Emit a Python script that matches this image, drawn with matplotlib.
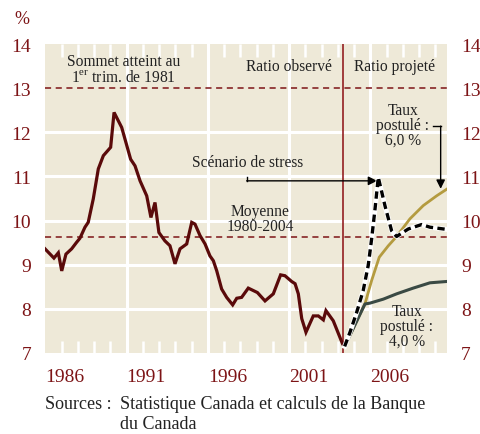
import matplotlib.pyplot as plt
from matplotlib.ticker import MultipleLocator

plt.rcParams['font.family'] = 'Liberation Serif'
plt.rcParams['mathtext.fontset'] = 'custom'
plt.rcParams['mathtext.rm'] = 'Liberation Serif'

BG = '#EEE9D8'
RED = '#7D1416'
TXT = '#222222'

# ratio observe
hist_x = [1985.98, 1986.53, 1986.8, 1987.01, 1987.27, 1987.62, 1987.93, 1988.13, 1988.44, 1988.64,
          1988.95, 1989.26, 1989.57, 1990.02, 1990.23, 1990.7, 1991.25, 1991.52, 1991.83, 1992.24,
          1992.5, 1992.75, 1992.99, 1993.36, 1993.67, 1993.98, 1994.29, 1994.7, 1995.01, 1995.21,
          1995.52, 1995.83, 1996.13, 1996.34, 1996.55, 1996.85, 1997.16, 1997.53, 1997.78, 1998.08,
          1998.49, 1999.05, 1999.52, 2000.03, 2000.48, 2000.75, 2001.16, 2001.37, 2001.57, 2001.78,
          2002.04, 2002.49, 2002.8, 2003.11, 2003.27, 2003.72, 2004.3, 2004.42]
hist_y = [9.36, 9.15, 9.27, 8.86, 9.24, 9.36, 9.51, 9.6, 9.85, 9.96,
          10.49, 11.17, 11.47, 11.66, 12.45, 12.11, 11.39, 11.24, 10.9, 10.56,
          10.07, 10.41, 9.73, 9.54, 9.43, 9.02, 9.36, 9.47, 9.96, 9.92,
          9.66, 9.47, 9.2, 9.09, 8.86, 8.45, 8.26, 8.09, 8.24, 8.26,
          8.47, 8.37, 8.18, 8.34, 8.77, 8.75, 8.62, 8.57, 8.34, 7.78,
          7.47, 7.84, 7.84, 7.75, 7.96, 7.73, 7.2, 7.15]

# scenarios projetes
stress_x = [2004.42, 2004.75, 2005.16, 2005.56, 2005.87, 2006.08, 2006.29, 2006.49, 2006.9,
            2007.31, 2007.62, 2008.34, 2009.16, 2009.67, 2010.7]
stress_y = [7.15, 7.47, 7.92, 8.41, 8.98, 9.58, 10.26, 10.98, 10.34,
            9.77, 9.64, 9.81, 9.91, 9.85, 9.8]
taux6_x = [2004.42, 2005.67, 2006.08, 2006.55, 2007.11, 2007.62, 2008.44, 2009.26, 2010.08, 2010.7]
taux6_y = [7.15, 8.11, 8.64, 9.17, 9.43, 9.64, 10.04, 10.34, 10.56, 10.71]
taux4_x = [2004.42, 2005.67, 2005.98, 2006.8, 2007.62, 2008.64, 2009.67, 2010.7]
taux4_y = [7.15, 8.11, 8.13, 8.22, 8.34, 8.47, 8.59, 8.62]

PEAK_1981 = 13.0
MOYENNE = 9.63
DEBUT_PROJ = 2004.33
year_ticks = [1986, 1991, 1996, 2001, 2006]
y_grid = [8, 9, 10, 11, 12]

fig = plt.figure(figsize=(4.81, 4.35), dpi=100)
ax = fig.add_axes([45/481, 1-354/435, 402/481, 309/435])
ax.set_facecolor(BG)
for s in ax.spines.values():
    s.set_visible(False)

ax.set_xlim(1985.98, 2010.72)
ax.set_ylim(7, 14)

for g in y_grid:
    ax.axhline(g, color='white', lw=2.2, zorder=1)
for g in year_ticks[1:]:
    ax.axvline(g, color='white', lw=2.2, zorder=1)

ax.axhline(PEAK_1981, color=RED, lw=1.1, dashes=(4, 3), zorder=2)
ax.axhline(MOYENNE, color=RED, lw=1.1, dashes=(4, 3), zorder=2)
ax.axvline(DEBUT_PROJ, color='#8B0E12', lw=1.1, zorder=2)

ax.plot(hist_x, hist_y, color='#5A0A0A', lw=2.3, zorder=4, solid_joinstyle='miter')
ax.plot(taux6_x, taux6_y, color='#B49B3F', lw=2.0, zorder=3)
ax.plot(taux4_x, taux4_y, color='#3A4A44', lw=2.2, zorder=3)
ax.plot(stress_x, stress_y, color='white', lw=3.5, zorder=5)
ax.plot(stress_x, stress_y, color='black', lw=2.4, dashes=(2.2, 1.3), zorder=6)

# axes et graduations
ax.set_xticks(year_ticks)
ax.set_xticklabels([str(y) for y in year_ticks], ha='left')
ax.xaxis.set_minor_locator(MultipleLocator(1))
ax.tick_params(axis='x', which='major', length=0, pad=11, labelsize=14, labelcolor=RED)
ax.tick_params(axis='x', which='minor', direction='in', length=9, width=1.8, color='white',
               top=True, bottom=True)
ax.set_yticks(range(7, 15))
ax.tick_params(axis='y', which='major', length=0, labelsize=14, labelcolor=RED,
               left=True, right=True, labelleft=True, labelright=True)
ax.tick_params(axis='y', which='major', pad=10)

fig.text(14/481, 1-20/435, '%', color=RED, fontsize=13, va='center', ha='left')

# annotations
ax.text(1990.8, 13.43, 'Sommet atteint au\n1$^{\\rm er}$ trim. de 1981', ha='center', va='center',
        fontsize=11.2, color=TXT, linespacing=0.95)
ax.text(2003.64, 13.5, 'Ratio observé', ha='right', va='center', fontsize=11.2, color=TXT)
ax.text(2005.0, 13.5, 'Ratio projeté', ha='left', va='center', fontsize=11.2, color=TXT)
ax.text(1998.44, 11.33, 'Scénario de stress', ha='center', va='center', fontsize=11.2, color=TXT)
ax.plot([1998.39, 1998.39], [10.98, 10.9], color='black', lw=1)
ax.annotate('', xy=(2006.42, 10.9), xytext=(1998.39, 10.9),
            arrowprops=dict(arrowstyle='-|>', color='black', lw=1, mutation_scale=13,
                            shrinkA=0, shrinkB=0))
ax.text(1999.21, 10.04, 'Moyenne\n1980-2004', ha='center', va='center', fontsize=11.2,
        color=TXT, linespacing=0.9)
ax.text(2008.0, 12.16, 'Taux\npostulé :\n6,0 %', ha='center', va='center', fontsize=11.2,
        color=TXT, linespacing=0.9, zorder=7)
ax.plot([2009.85, 2010.33], [12.14, 12.14], color='black', lw=1)
ax.annotate('', xy=(2010.33, 10.72), xytext=(2010.33, 12.14),
            arrowprops=dict(arrowstyle='-|>', color='black', lw=1, mutation_scale=13,
                            shrinkA=0, shrinkB=0))
ax.text(2008.24, 7.62, 'Taux\npostulé :\n4,0 %', ha='center', va='center', fontsize=11.2,
        color=TXT, linespacing=0.9, zorder=7)

fig.text(45/481, 1-396/435, 'Sources :', fontsize=13, color=TXT, va='top', ha='left')
fig.text(120/481, 1-396/435, 'Statistique Canada et calculs de la Banque\ndu Canada',
         fontsize=13, color=TXT, va='top', ha='left', linespacing=1.22)

fig.savefig('out.png', dpi=100, facecolor='white')
